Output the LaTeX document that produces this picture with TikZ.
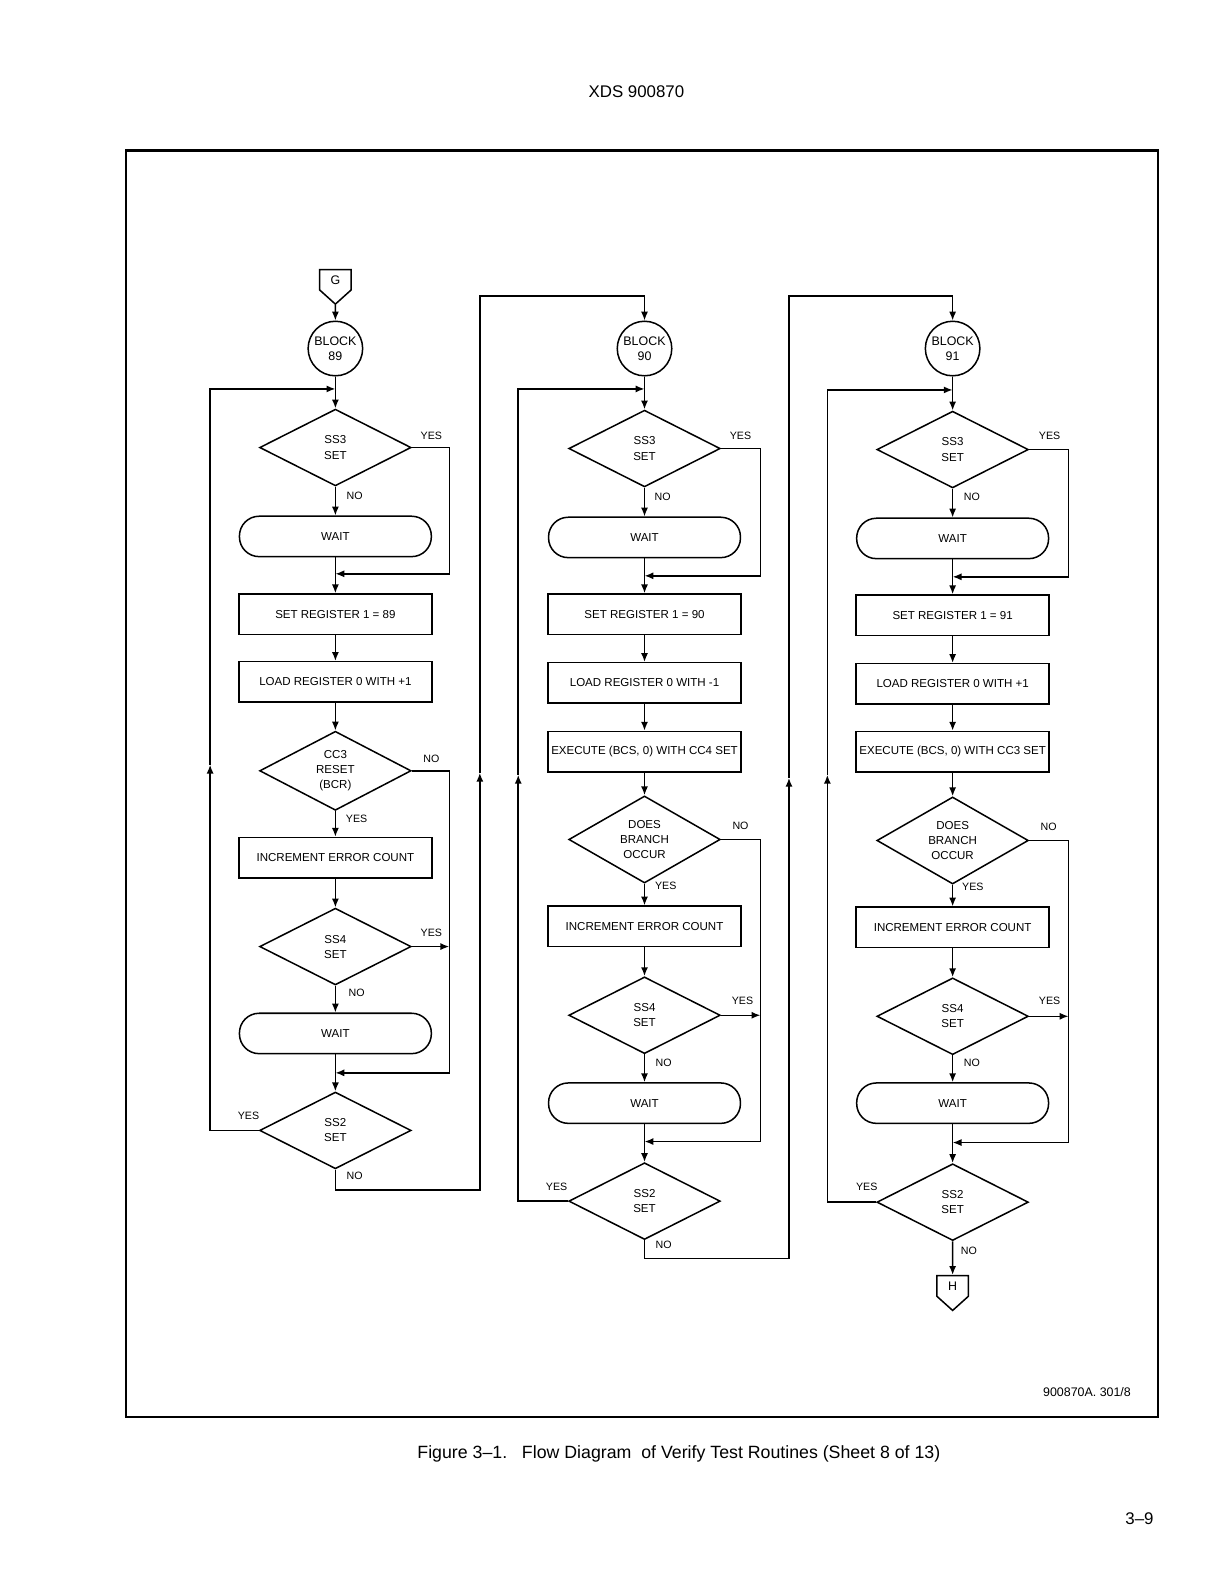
\documentclass[tikz,border=0pt]{standalone}
\usepackage{fontspec}
\setmainfont{Liberation Sans}
\usetikzlibrary{positioning, shapes.geometric, shapes.symbols, arrows.meta}

\begin{document}
\begin{tikzpicture}[
  x=0.02cm, y=-0.02cm,
  line width=0.85pt,
  >={Latex[length=5pt,width=4pt]},
  every node/.style={font=\fontsize{6.5}{8.5}\selectfont, align=center},
  decision/.style={diamond, draw, inner sep=0pt, minimum width=3cm, minimum height=1.52cm},
  procbox/.style={rectangle, draw, inner sep=0pt, minimum width=3.82cm, minimum height=0.8cm},
  waitbox/.style={rectangle, rounded corners=0.39cm, draw, inner sep=0pt, minimum width=3.8cm, minimum height=0.8cm},
  blocknode/.style={circle, draw, inner sep=0pt, minimum size=1.08cm, font=\fontsize{7}{8.5}\selectfont},
  offpage/.style={signal, signal to=south, signal pointer angle=96, draw, inner sep=0pt, minimum width=0.62cm, minimum height=0.49cm, font=\fontsize{7}{8}\selectfont},
  tag/.style={font=\fontsize{6}{7}\selectfont}
]
  \fill[white] (0,0) rectangle (1212,1568);
  \useasboundingbox (0,0) rectangle (1212,1568);

  % page furniture
  \node[font=\fontsize{9.5}{11}\selectfont] (hdr) at (630,91) {XDS 900870};
  \draw[line width=1.2pt] (125,149) rectangle (1146,1403);
  \node[font=\fontsize{7}{8}\selectfont] (ref) at (1076,1378) {900870A. 301/8};
  \node[font=\fontsize{10}{12}\selectfont] (cap) at (672,1439)
    {Figure 3–1.\ \ \ Flow Diagram\ \ of Verify Test Routines (Sheet 8 of 13)};
  \node[font=\fontsize{9.5}{11}\selectfont] (pg) at (1128,1503) {3–9};

  % block 89
  \node[offpage] (g) at (332,277) {G};
  \node[blocknode] (b89) at (332,345) {BLOCK\\89};
  \node[decision] (ss3a) at (332,443) {SS3\\SET};
  \node[waitbox] (w1a) at (332,531) {WAIT};
  \node[procbox] (set89) at (332,608) {SET REGISTER 1 = 89};
  \node[procbox] (load1) at (332,675) {LOAD REGISTER 0 WITH +1};
  \node[decision] (cc3) at (332,763) {CC3\\RESET\\(BCR)};
  \node[procbox] (inc1) at (332,849) {INCREMENT ERROR COUNT};
  \node[decision] (ss4a) at (332,937) {SS4\\SET};
  \node[waitbox] (w1b) at (332,1023) {WAIT};
  \node[decision] (ss2a) at (332,1119) {SS2\\SET};
  \coordinate (j1) at (332,385);
  \coordinate (m1a) at (332,568);
  \coordinate (m1b) at (332,1062);
  \coordinate (up1) at (208,757);
  \coordinate (up2) at (475,765);
  \coordinate (t2) at (638,293);

  % block 90
  \node[blocknode] (b90) at (638,345) {BLOCK\\90};
  \node[decision] (ss3b) at (638,444) {SS3\\SET};
  \node[waitbox] (w2a) at (638,532) {WAIT};
  \node[procbox] (set90) at (638,608) {SET REGISTER 1 = 90};
  \node[procbox] (load2) at (638,676) {LOAD REGISTER 0 WITH -1};
  \node[procbox] (exec2) at (638,744) {EXECUTE (BCS, 0) WITH CC4 SET};
  \node[decision] (br2) at (638,831) {DOES\\BRANCH\\OCCUR};
  \node[procbox] (inc2) at (638,917) {INCREMENT ERROR COUNT};
  \node[decision] (ss4b) at (638,1005) {SS4\\SET};
  \node[waitbox] (w2b) at (638,1092) {WAIT};
  \node[decision] (ss2b) at (638,1189) {SS2\\SET};
  \coordinate (j2) at (638,385);
  \coordinate (m2a) at (638,570);
  \coordinate (m2b) at (638,1130);
  \coordinate (up3) at (513,767);
  \coordinate (up4) at (781,770);
  \coordinate (t3) at (943,293);

  % block 91
  \node[blocknode] (b91) at (943,345) {BLOCK\\91};
  \node[decision] (ss3c) at (943,445) {SS3\\SET};
  \node[waitbox] (w3a) at (943,533) {WAIT};
  \node[procbox] (set91) at (943,609) {SET REGISTER 1 = 91};
  \node[procbox] (load3) at (943,677) {LOAD REGISTER 0 WITH +1};
  \node[procbox] (exec3) at (943,744) {EXECUTE (BCS, 0) WITH CC3 SET};
  \node[decision] (br3) at (943,832) {DOES\\BRANCH\\OCCUR};
  \node[procbox] (inc3) at (943,918) {INCREMENT ERROR COUNT};
  \node[decision] (ss4c) at (943,1006) {SS4\\SET};
  \node[waitbox] (w3b) at (943,1092) {WAIT};
  \node[decision] (ss2c) at (943,1190) {SS2\\SET};
  \node[offpage] (h) at (943,1273) {H};
  \coordinate (j3) at (943,386);
  \coordinate (m3a) at (943,571);
  \coordinate (m3b) at (943,1131);
  \coordinate (up5) at (819,767);

  % flow lines, block 89
  \draw[->] (g) -- (b89);
  \draw[->] (b89) -- (ss3a);
  \draw[->] (ss3a) -- (w1a);
  \draw[->] (w1a) -- (set89);
  \draw[->] (ss3a.east) -- ++(37,0) |- (m1a);
  \draw[->] (set89) -- (load1);
  \draw[->] (load1) -- (cc3);
  \draw[->] (cc3) -- (inc1);
  \draw[->] (inc1) -- (ss4a);
  \draw[->] (ss4a) -- (w1b);
  \draw[->] (w1b) -- (ss2a);
  \draw[->] (cc3.east) -- ++(37,0) |- (m1b);
  \draw[->] (ss4a.east) -- ++(37,0);
  \draw[->] (ss2a.west) -| (up1);
  \draw[->] (up1) |- (j1);
  \draw[->] (ss2a.south) -- ++(0,20) -| (up2);
  \draw[->] (up2) |- (t2) -- (b90);

  % flow lines, block 90
  \draw[->] (b90) -- (ss3b);
  \draw[->] (ss3b) -- (w2a);
  \draw[->] (w2a) -- (set90);
  \draw[->] (ss3b.east) -- ++(39,0) |- (m2a);
  \draw[->] (set90) -- (load2);
  \draw[->] (load2) -- (exec2);
  \draw[->] (exec2) -- (br2);
  \draw[->] (br2) -- (inc2);
  \draw[->] (inc2) -- (ss4b);
  \draw[->] (ss4b) -- (w2b);
  \draw[->] (w2b) -- (ss2b);
  \draw[->] (br2.east) -- ++(39,0) |- (m2b);
  \draw[->] (ss4b.east) -- ++(39,0);
  \draw[->] (ss2b.west) -| (up3);
  \draw[->] (up3) |- (j2);
  \draw[->] (ss2b.south) -- ++(0,18) -| (up4);
  \draw[->] (up4) |- (t3) -- (b91);

  % flow lines, block 91
  \draw[->] (b91) -- (ss3c);
  \draw[->] (ss3c) -- (w3a);
  \draw[->] (w3a) -- (set91);
  \draw[->] (ss3c.east) -- ++(39,0) |- (m3a);
  \draw[->] (set91) -- (load3);
  \draw[->] (load3) -- (exec3);
  \draw[->] (exec3) -- (br3);
  \draw[->] (br3) -- (inc3);
  \draw[->] (inc3) -- (ss4c);
  \draw[->] (ss4c) -- (w3b);
  \draw[->] (w3b) -- (ss2c);
  \draw[->] (br3.east) -- ++(39,0) |- (m3b);
  \draw[->] (ss4c.east) -- ++(39,0);
  \draw[->] (ss2c.west) -| (up5);
  \draw[->] (up5) |- (j3);
  \draw[->] (ss2c) -- (h);

  % branch tags
  \node[tag] (y1a) at (427,431) {YES};
  \node[tag] (n1a) at (351,491) {NO};
  \node[tag] (n1b) at (427,751) {NO};
  \node[tag] (y1b) at (353,811) {YES};
  \node[tag] (y1c) at (427,923) {YES};
  \node[tag] (n1c) at (353,983) {NO};
  \node[tag] (y1d) at (246,1105) {YES};
  \node[tag] (n1d) at (351,1164) {NO};
  \node[tag] (y2a) at (733,431) {YES};
  \node[tag] (n2a) at (656,492) {NO};
  \node[tag] (n2b) at (733,817) {NO};
  \node[tag] (y2b) at (659,877) {YES};
  \node[tag] (y2c) at (735,991) {YES};
  \node[tag] (n2c) at (657,1052) {NO};
  \node[tag] (y2d) at (551,1175) {YES};
  \node[tag] (n2d) at (657,1232) {NO};
  \node[tag] (y3a) at (1039,431) {YES};
  \node[tag] (n3a) at (962,492) {NO};
  \node[tag] (n3b) at (1038,818) {NO};
  \node[tag] (y3b) at (963,878) {YES};
  \node[tag] (y3c) at (1039,991) {YES};
  \node[tag] (n3c) at (962,1052) {NO};
  \node[tag] (y3d) at (858,1175) {YES};
  \node[tag] (n3d) at (959,1238) {NO};
\end{tikzpicture}
\end{document}
